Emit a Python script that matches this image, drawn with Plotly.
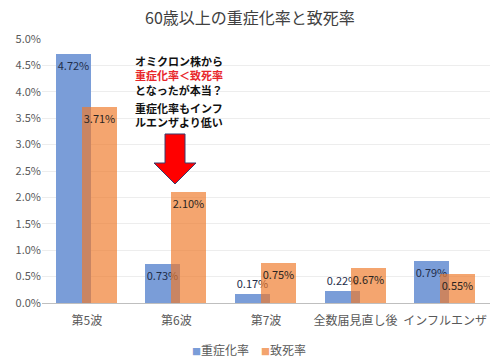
import plotly.graph_objects as go

categories = ["第5波", "第6波", "第7波", "全数届見直し後", "インフルエンザ"]
severe_rate = [4.72, 0.73, 0.17, 0.22, 0.79]
death_rate = [3.71, 2.10, 0.75, 0.67, 0.55]
series_names = ["重症化率", "致死率"]
title_text = "60歳以上の重症化率と致死率"
tick_vals = [0, 0.5, 1.0, 1.5, 2.0, 2.5, 3.0, 3.5, 4.0, 4.5, 5.0]
tick_text = [f"{v:.1f}%" for v in tick_vals]

FONT = "Noto Sans CJK JP"
BLUE = "#7A9DD8"
ORANGE = "rgba(239,123,43,0.68)"


def positions(vals):
    return ["outside" if v < 0.3 else "inside" for v in vals]


fig = go.Figure()
fig.add_trace(go.Bar(
    x=categories, y=severe_rate, name=series_names[0],
    marker=dict(color=BLUE, line=dict(width=0)),
    width=0.39, offset=-0.345,
    text=severe_rate, texttemplate="%{y:.2f}%",
    textposition=positions(severe_rate), insidetextanchor="end",
    textfont=dict(family=FONT, size=11, color="#1F2D4A"),
    textangle=0, cliponaxis=False, showlegend=False,
))
fig.add_trace(go.Bar(
    x=categories, y=death_rate, name=series_names[1],
    marker=dict(color=ORANGE, line=dict(width=0)),
    width=0.39, offset=-0.055,
    text=death_rate, texttemplate="%{y:.2f}%",
    textposition=positions(death_rate), insidetextanchor="end",
    textfont=dict(family=FONT, size=11, color="#2B2522"),
    textangle=0, cliponaxis=False, showlegend=False,
))

# Red down arrow (paper coordinates)
def px(x, y):
    return (x - 42) / 448, (303 - y) / 264

pts = [(165, 134), (185, 134), (185, 163), (196, 163), (175, 184), (154, 163), (165, 163)]
path = "M " + " L ".join(f"{px(a,b)[0]:.4f},{px(a,b)[1]:.4f}" for a, b in pts) + " Z"
fig.add_shape(type="path", path=path, xref="paper", yref="paper",
              fillcolor="#FF0000", line=dict(color="#3B3B6B", width=1), layer="above")

ax0, ay0 = px(133, 51)
fig.add_annotation(
    x=ax0, y=ay0, xref="paper", yref="paper", xanchor="left", yanchor="top",
    align="left", showarrow=False,
    text="<b>オミクロン株から<br><span style='color:#E8262A'>重症化率＜致死率</span><br>となったが本当？</b>",
    font=dict(family=FONT, size=11, color="#111111"),
)
ax1, ay1 = px(133, 98)
fig.add_annotation(
    x=ax1, y=ay1, xref="paper", yref="paper", xanchor="left", yanchor="top",
    align="left", showarrow=False,
    text="<b>重症化率もインフ<br>ルエンザより低い</b>",
    font=dict(family=FONT, size=11, color="#111111"),
)

# Legend drawn as text
lx, ly = px(249, 349)
fig.add_annotation(
    x=lx, y=ly, xref="paper", yref="paper", xanchor="center", yanchor="middle",
    showarrow=False,
    text=(f"<span style='color:{BLUE};font-size:9px'>■</span>{series_names[0]}"
          f"　<span style='color:#F3A46E;font-size:9px'>■</span>{series_names[1]}"),
    font=dict(family=FONT, size=12, color="#595959"),
)

fig.update_layout(
    width=500, height=364,
    margin=dict(l=42, r=10, t=39, b=61, autoexpand=False),
    paper_bgcolor="white", plot_bgcolor="white",
    barmode="overlay",
    bargap=0,
    uniformtext=dict(minsize=11, mode="show"),
    title=dict(text=title_text, x=0.5, xanchor="center", y=0.95, yanchor="middle",
               font=dict(family=FONT, size=16, color="#404040")),
    font=dict(family=FONT, color="#595959"),
    showlegend=False,
)
fig.update_xaxes(
    showgrid=False, showline=True, linecolor="#BFBFBF", linewidth=1,
    ticks="", tickfont=dict(family=FONT, size=12, color="#595959"),
    ticklabelstandoff=7, automargin=False,
)
fig.update_yaxes(
    range=[0, 5.0], tickvals=tick_vals, ticktext=tick_text,
    showgrid=True, gridcolor="#EDEDED", gridwidth=1, zeroline=False,
    tickfont=dict(family=FONT, size=11, color="#595959"),
    ticks="", showline=False, automargin=False,
)

fig.write_html("out.html", config={"displayModeBar": False},
               post_script="document.body.style.margin='0';document.body.style.overflow='hidden';")
